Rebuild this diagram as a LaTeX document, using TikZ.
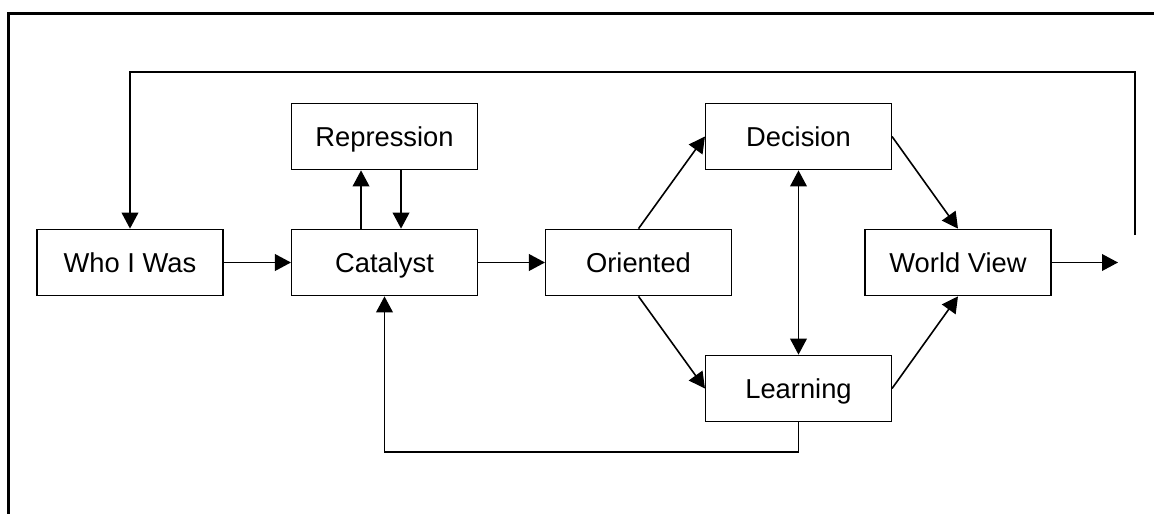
\documentclass[tikz,border=0pt]{standalone}
\usepackage{fontspec}
\setmainfont{Liberation Sans}
\usepackage{tikz}
\usetikzlibrary{arrows.meta,positioning,calc}

\begin{document}
\begin{tikzpicture}[x=0.75pt,y=-0.75pt,line cap=butt,line join=miter,
    >={Triangle[length=12pt,width=12.5pt]},
    stage/.style={draw,line width=0.8pt,minimum width=139.5pt,minimum height=50pt,inner sep=0pt,
        text height=14.6pt,text depth=0pt,font=\fontsize{20.5}{24}\selectfont},
    link/.style={->,line width=1.2pt},
    frame/.style={line width=1.6pt}]
                \useasboundingbox (0,0) rectangle (1154,514);
                \draw[frame] (8.5,514) -- (8.5,13.5) -- (1154,13.5);

                \node[stage] (who) at (130,262.5) {Who I Was};
                \node[stage] (cat) at (384.5,262.5) {Catalyst};
                \node[stage] (rep) at (384.5,136.5) {Repression};
                \node[stage] (ori) at (638.5,262.5) {Oriented};
                \node[stage] (dec) at (798.5,136.5) {Decision};
                \node[stage] (lea) at (798.5,388.5) {Learning};
                \node[stage] (wv) at (958,262.5) {World View};

                \coordinate (out) at (1118,262.5);
                \coordinate (loopend) at (1135,235);
                \coordinate (looptop) at (130,72);
                \coordinate (fbot) at (798.5,452);

                \draw[link] (who) -- (cat);
                \draw[link] (cat) -- (ori);
                \draw[link] ([xshift=-17.6pt]cat.north) -- ([xshift=-17.6pt]rep.south);
                \draw[link] ([xshift=12.4pt]rep.south) -- ([xshift=12.4pt]cat.north);
                \draw[link] (ori.north) -- (dec.west);
                \draw[link] (ori.south) -- (lea.west);
                \draw[link,<->] (dec) -- (lea);
                \draw[link] (dec.east) -- (wv.north);
                \draw[link] (lea.east) -- (wv.south);
                \draw[link] (wv) -- (out);
                \draw[link] (lea.south) -- (fbot) -| (cat.south);
                \draw[link] (loopend) |- (looptop) -- (who.north);
            \end{tikzpicture}
\end{document}
